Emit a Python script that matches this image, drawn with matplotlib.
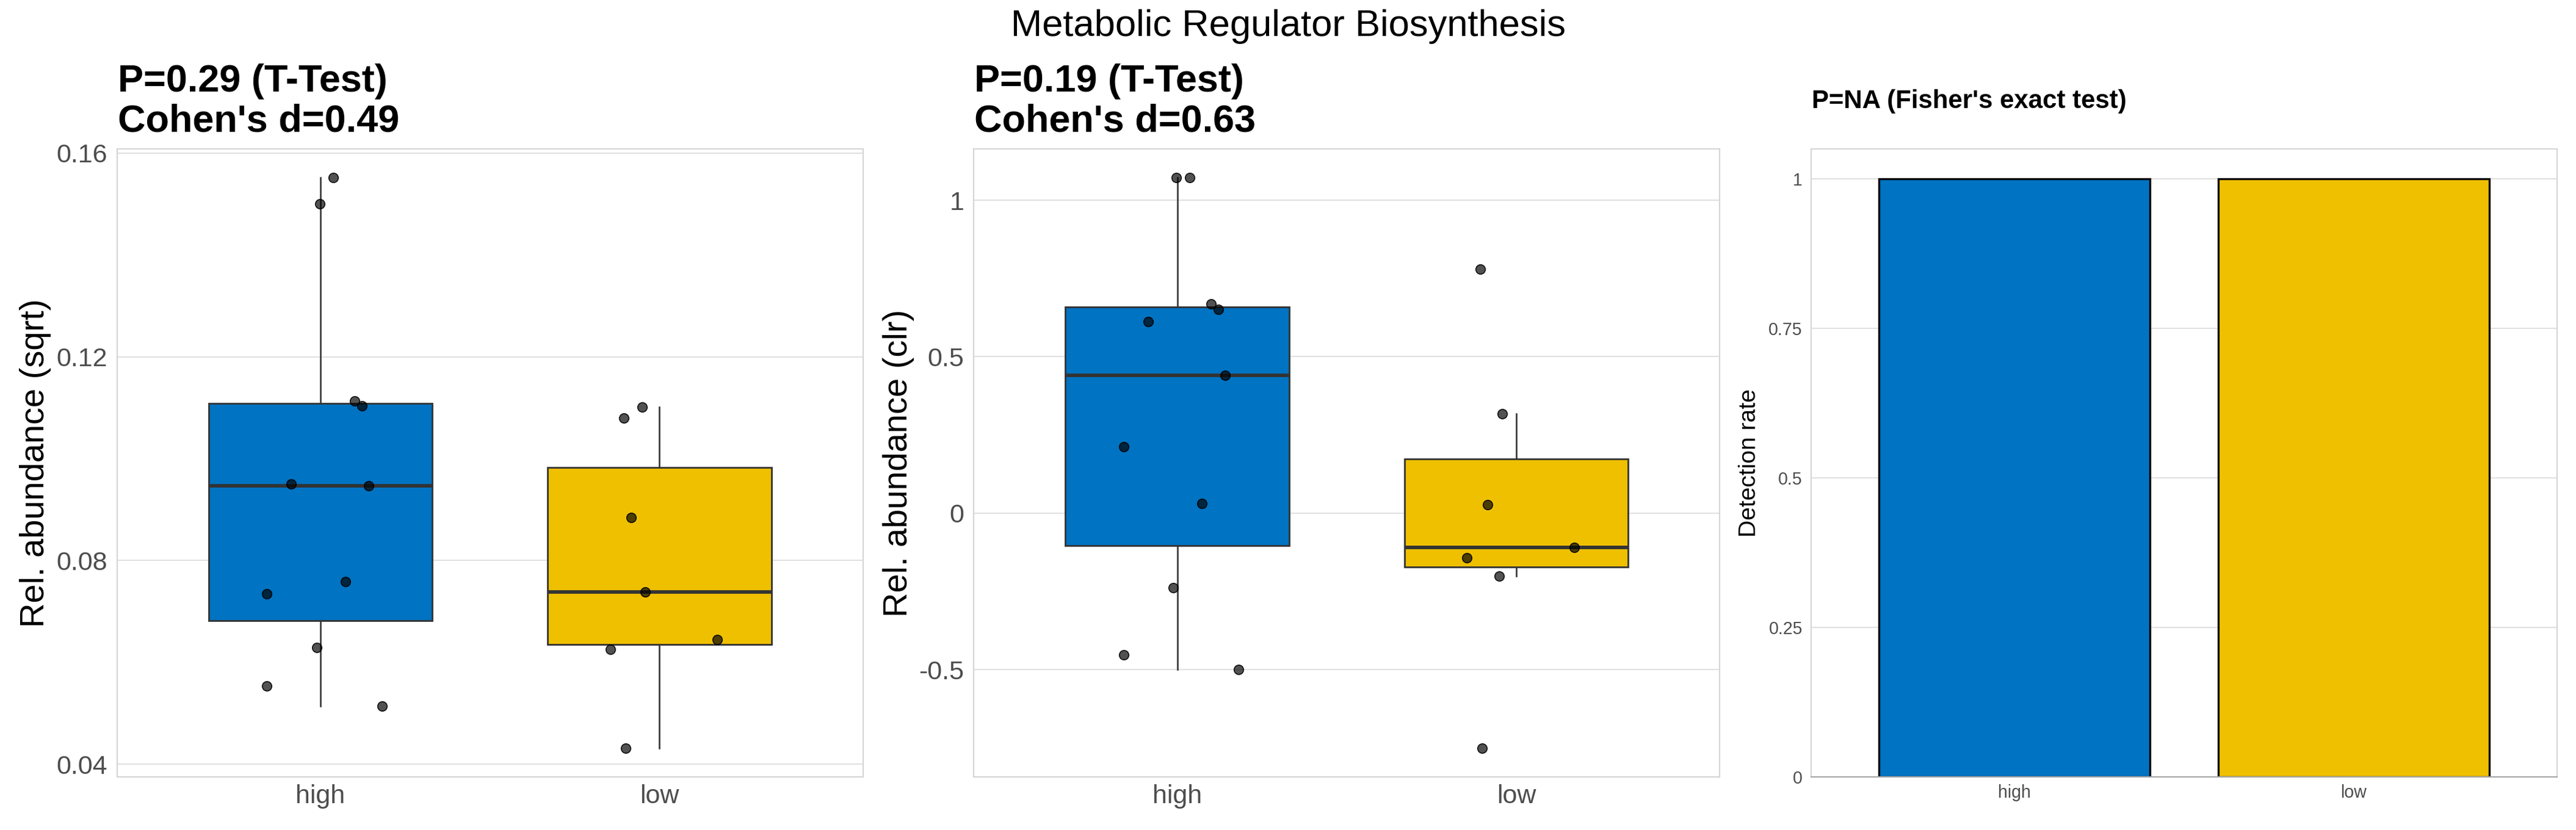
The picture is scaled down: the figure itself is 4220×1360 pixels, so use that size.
import matplotlib
matplotlib.use("Agg")
import matplotlib.pyplot as plt
import numpy as np

plt.rcParams['font.family'] = ['Liberation Sans', 'DejaVu Sans']

# ---------------- data ----------------
groups = ["high", "low"]
group_colors = ["#0073C2", "#EFC000"]

main_title = "Metabolic Regulator Biosynthesis"

# panel 1: sqrt relative abundance
p1_high = [0.1552, 0.1500, 0.1113, 0.1103, 0.0950, 0.0947, 0.0759, 0.0734, 0.0629, 0.0553, 0.0514]
p1_high_jitter = [0.038, -0.002, 0.100, 0.123, -0.087, 0.143, 0.073, -0.158, -0.010, -0.158, 0.181]
p1_low = [0.1101, 0.1080, 0.0884, 0.0738, 0.0645, 0.0626, 0.0431]
p1_low_jitter = [-0.052, -0.105, -0.083, -0.042, 0.171, -0.145, -0.100]
p1_ticks = [0.04, 0.08, 0.12, 0.16]
p1_ticklabels = ["0.04", "0.08", "0.12", "0.16"]
p1_title = ["P=0.29 (T-Test)", "Cohen's d=0.49"]
p1_ylabel = "Rel. abundance (sqrt)"

# panel 2: clr relative abundance
p2_high = [1.0726, 1.0726, 0.6676, 0.6507, 0.6119, 0.4398, 0.2119, 0.0314, -0.2386, -0.4530, -0.5002]
p2_high_jitter = [-0.002, 0.036, 0.099, 0.122, -0.086, 0.142, -0.157, 0.072, -0.011, -0.157, 0.180]
p2_low = [0.7789, 0.3183, 0.0263, -0.1104, -0.1424, -0.2015, -0.7516]
p2_low_jitter = [-0.106, -0.042, -0.084, 0.171, -0.146, -0.051, -0.101]
p2_ticks = [-0.5, 0, 0.5, 1]
p2_ticklabels = ["-0.5", "0", "0.5", "1"]
p2_title = ["P=0.19 (T-Test)", "Cohen's d=0.63"]
p2_ylabel = "Rel. abundance (clr)"

# panel 3: detection rate
p3_rates = [1.0, 1.0]
p3_ticks = [0, 0.25, 0.5, 0.75, 1]
p3_ticklabels = ["0", "0.25", "0.5", "0.75", "1"]
p3_title = "P=NA (Fisher's exact test)"
p3_ylabel = "Detection rate"

# ---------------- layout ----------------
W, H = 4220, 1360
fig = plt.figure(figsize=(W / 100, H / 100), dpi=100)

def px(v):
    return v * 72 / 100  # pixels -> points

ax_top, ax_bot = 244, 1273
lefts = [191.7, 1595.3, 2967.0]
width = 1222.0
axes = []
for l in lefts:
    axes.append(fig.add_axes([l / W, 1 - ax_bot / H, width / W, (ax_bot - ax_top) / H]))

GRID = "#E0E0E0"
BORDER = "#D6D6D6"
TICKC = "#4D4D4D"
LINEC = "#333333"

def style(ax, ticks, labels, tick_fs, pad_y, pad_x):
    ax.set_xlim(0.4, 2.6)
    ax.set_xticks([1, 2])
    ax.set_xticklabels(groups)
    ax.set_yticks(ticks)
    ax.set_yticklabels(labels)
    ax.tick_params(axis='both', length=0, labelsize=tick_fs, labelcolor=TICKC)
    ax.tick_params(axis='y', pad=pad_y)
    ax.tick_params(axis='x', pad=pad_x)
    ax.yaxis.grid(True, color=GRID, linewidth=px(2))
    ax.xaxis.grid(False)
    ax.set_axisbelow(True)
    for s in ax.spines.values():
        s.set_color(BORDER)
        s.set_linewidth(px(2.2))

def expand(vals):
    lo, hi = min(vals), max(vals)
    r = hi - lo
    return lo - 0.05 * r, hi + 0.05 * r

def box_panel(ax, high, high_j, low, low_j, ticks, labels, title_lines, ylabel, ylab_x):
    data = [high, low]
    bp = ax.boxplot(data, positions=[1, 2], widths=0.66, patch_artist=True,
                    showfliers=False, showcaps=False, whis=1.5,
                    boxprops=dict(edgecolor=LINEC, linewidth=px(2.8)),
                    whiskerprops=dict(color=LINEC, linewidth=px(2.6)),
                    medianprops=dict(color=LINEC, linewidth=px(5.8)))
    for patch, c in zip(bp['boxes'], group_colors):
        patch.set_facecolor(c)
        patch.set_zorder(2)
    for w in bp['whiskers']:
        w.set_zorder(1.5)
    for m in bp['medians']:
        m.set_zorder(2.5)
    for i, (vals, jit) in enumerate([(high, high_j), (low, low_j)]):
        xs = np.array(jit) + (i + 1)
        ax.scatter(xs, vals, s=px(15.5) ** 2, facecolor=(0, 0, 0, 0.68),
                   edgecolor=(0, 0, 0, 0.9), linewidth=px(1.6), zorder=4)
    ax.set_ylim(*expand(high + low))
    style(ax, ticks, labels, px(43), px(16), px(12))
    ax.set_ylabel(ylabel, fontsize=px(56), color="black", va='baseline')
    ax.yaxis.set_label_coords(ylab_x, 0.5)
    l = ax.get_position().x0 * W
    fig.text((l + 1) / W, 1 - 150 / H, title_lines[0], fontsize=px(63),
             fontweight='bold', ha='left', va='baseline')
    fig.text((l + 1) / W, 1 - 215 / H, title_lines[1], fontsize=px(63),
             fontweight='bold', ha='left', va='baseline')

box_panel(axes[0], p1_high, p1_high_jitter, p1_low, p1_low_jitter,
          p1_ticks, p1_ticklabels, p1_title, p1_ylabel, (72.2 - lefts[0]) / width)
box_panel(axes[1], p2_high, p2_high_jitter, p2_low, p2_low_jitter,
          p2_ticks, p2_ticklabels, p2_title, p2_ylabel, (1486 - lefts[1]) / width)

# panel 3 bars
ax3 = axes[2]
ax3.bar([1, 2], p3_rates, width=0.8, color=group_colors, edgecolor="black",
        linewidth=px(3.3), zorder=2)
ax3.set_ylim(0, 1.05)
style(ax3, p3_ticks, p3_ticklabels, px(28.5), px(14), px(12))
ax3.spines['bottom'].set_color("#A8A8A8")
ax3.spines['bottom'].set_zorder(3)
ax3.set_ylabel(p3_ylabel, fontsize=px(39), color="black", va='baseline')
ax3.yaxis.set_label_coords((2876 - lefts[2]) / width, 0.5)
fig.text((lefts[2] + 1) / W, 1 - 176.7 / H, p3_title, fontsize=px(42),
         fontweight='bold', ha='left', va='baseline')

# main title
fig.text(0.5, 1 - 59.3 / H, main_title, fontsize=px(61.5), ha='center', va='baseline')

fig.savefig("out.png", dpi=100, facecolor="white")
